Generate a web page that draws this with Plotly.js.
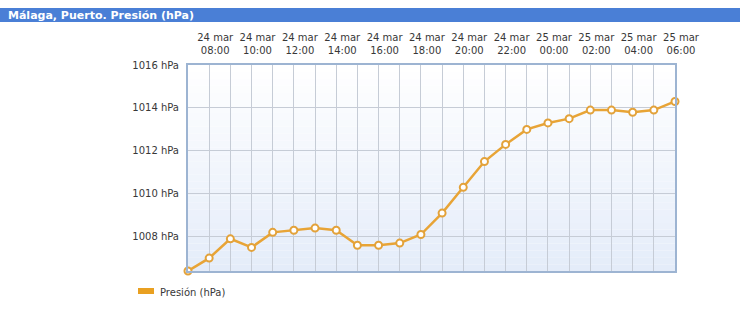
<!DOCTYPE html>
<html><head><meta charset="utf-8">
<script src="https://cdn.plot.ly/plotly-3.0.1.min.js"></script>
<style>html,body{margin:0;padding:0;background:#fff}#chart{width:740px;height:313px}</style>
</head><body><div id="chart"></div>
<script>
const times = [
  '2024-03-24 07:00','2024-03-24 08:00','2024-03-24 09:00','2024-03-24 10:00',
  '2024-03-24 11:00','2024-03-24 12:00','2024-03-24 13:00','2024-03-24 14:00',
  '2024-03-24 15:00','2024-03-24 16:00','2024-03-24 17:00','2024-03-24 18:00',
  '2024-03-24 19:00','2024-03-24 20:00','2024-03-24 21:00','2024-03-24 22:00',
  '2024-03-24 23:00','2024-03-25 00:00','2024-03-25 01:00','2024-03-25 02:00',
  '2024-03-25 03:00','2024-03-25 04:00','2024-03-25 05:00','2024-03-25 06:00'
];
const pressure = [
  1006.4, 1007.0, 1007.9, 1007.5, 1008.2, 1008.3, 1008.4, 1008.3,
  1007.6, 1007.6, 1007.7, 1008.1, 1009.1, 1010.3, 1011.5, 1012.3,
  1013.0, 1013.3, 1013.5, 1013.9, 1013.9, 1013.8, 1013.9, 1014.3
];
const tickTimes = [
  '2024-03-24 08:00','2024-03-24 10:00','2024-03-24 12:00','2024-03-24 14:00',
  '2024-03-24 16:00','2024-03-24 18:00','2024-03-24 20:00','2024-03-24 22:00',
  '2024-03-25 00:00','2024-03-25 02:00','2024-03-25 04:00','2024-03-25 06:00'
];
const tickLabels = [
  '24 mar<br>08:00','24 mar<br>10:00','24 mar<br>12:00','24 mar<br>14:00',
  '24 mar<br>16:00','24 mar<br>18:00','24 mar<br>20:00','24 mar<br>22:00',
  '25 mar<br>00:00','25 mar<br>02:00','25 mar<br>04:00','25 mar<br>06:00'
];
const yTicks = [1008, 1010, 1012, 1014, 1016];
const yLabels = ['1008 hPa','1010 hPa','1012 hPa','1014 hPa','1016 hPa'];
const seriesName = 'Presión (hPa)';
const chartTitle = 'Málaga, Puerto. Presión (hPa)';

const W = 740, H = 313;
const L = 188, R = 65, T = 65, B = 42;
const pw = W - L - R, ph = H - T - B;
const px = x => (x - L) / pw;
const py = y => (H - B - y) / ph;

const shapes = [];
// background gradient bands (white top -> light blue bottom)
const N = 30;
for (let i = 0; i < N; i++) {
  const t = (i + 0.5) / N; // 0 bottom -> 1 top
  const r = Math.round(228 + (255 - 228) * t);
  const g = Math.round(236 + (255 - 236) * t);
  const b = Math.round(249 + (255 - 249) * t);
  shapes.push({type:'rect', xref:'paper', yref:'paper', x0:0, x1:1, y0:i/N, y1:(i+1)/N,
    fillcolor:`rgb(${r},${g},${b})`, line:{width:0}, layer:'below'});
}
// title bar
shapes.push({type:'rect', xref:'paper', yref:'paper', x0:px(0), x1:px(740), y0:py(22), y1:py(8),
  fillcolor:'#4a7fd6', line:{width:0}});
// legend swatch
shapes.push({type:'rect', xref:'paper', yref:'paper', x0:px(138), x1:px(154), y0:py(294), y1:py(288),
  fillcolor:'#e9a021', line:{width:0}});

const trace = {
  x: times, y: pressure, type:'scatter', mode:'lines+markers', name: seriesName,
  line:{color:'#e8a436', width:2.5},
  marker:{size:7, color:'#ffffff', line:{color:'#e3a23a', width:2}},
  cliponaxis:false, hoverinfo:'x+y'
};

const font = {family:'"DejaVu Sans", Verdana, sans-serif', size:10, color:'#383838'};
const layout = {
  width: W, height: H,
  margin:{l:L, r:R, t:T, b:B, pad:0},
  paper_bgcolor:'#ffffff', plot_bgcolor:'rgba(0,0,0,0)',
  showlegend:false,
  font: font,
  xaxis:{
    type:'date', side:'top', range:[times[0], times[times.length-1]],
    tickvals: tickTimes, ticktext: tickLabels, tickfont: font,
    showgrid:true, gridcolor:'#c6ccd6', gridwidth:1,
    minor:{dtick:3600000, tick0: times[0], showgrid:true, gridcolor:'#c6ccd6', gridwidth:1},
    showline:true, mirror:true, linecolor:'#9db4d2', linewidth:2,
    ticks:'', ticklabelstandoff:5, ticklabelshift:6, zeroline:false, fixedrange:true
  },
  yaxis:{
    range:[1006.4, 1016], tickvals: yTicks, ticktext: yLabels, tickfont: font,
    showgrid:true, gridcolor:'#c6ccd6', gridwidth:1,
    showline:true, mirror:true, linecolor:'#9db4d2', linewidth:2,
    ticks:'', ticklabelstandoff:5, zeroline:false, fixedrange:true
  },
  shapes: shapes,
  annotations:[
    {xref:'paper', yref:'paper', x:px(6), y:py(15), xanchor:'left', yanchor:'middle',
     text:'<b>'+chartTitle+'</b>', showarrow:false,
     font:{family:'"DejaVu Sans", Verdana, sans-serif', size:11, color:'#ffffff'}},
    {xref:'paper', yref:'paper', x:px(158), y:py(292), xanchor:'left', yanchor:'middle',
     text: seriesName, showarrow:false, font: font}
  ]
};
Plotly.newPlot('chart', [trace], layout, {displayModeBar:false, staticPlot:true});
</script>
</body></html>
